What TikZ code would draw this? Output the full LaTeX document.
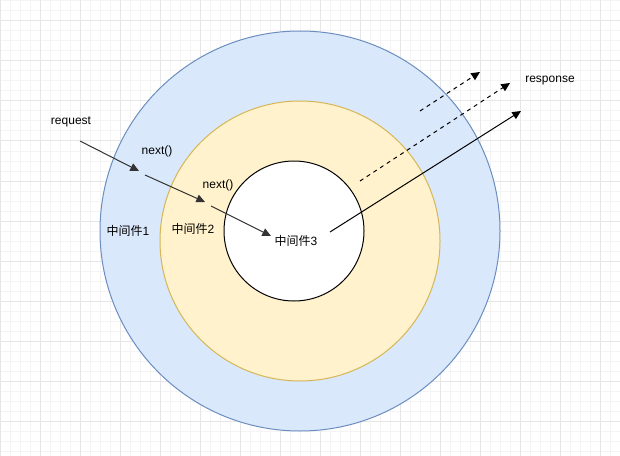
\documentclass[tikz,border=0pt]{standalone}
\usepackage{fontspec}
\setmainfont{Liberation Sans}
\newfontfamily\cjk{Noto Sans CJK SC}
\usetikzlibrary{arrows.meta}
\definecolor{bluefill}{HTML}{DAE8FC}
\definecolor{bluedraw}{HTML}{6C8EBF}
\definecolor{yelfill}{HTML}{FFF2CC}
\definecolor{yeldraw}{HTML}{D6B656}
\definecolor{gridminor}{HTML}{F4F4F4}
\definecolor{gridmajor}{HTML}{E6E6E6}
\definecolor{arrgray}{HTML}{333333}
\tikzset{
  ring/.style={circle, inner sep=0pt, line width=0.75pt},
  lbl/.style={font=\fontsize{9pt}{10pt}\selectfont, inner sep=0pt, text=black},
  arr/.style={line width=0.75pt, -{Triangle[length=6.5pt,width=6pt]}},
}
\begin{document}
\begin{tikzpicture}[x=0.75pt,y=-0.75pt]
\useasboundingbox (0,0) rectangle (620,456);
\fill[white] (0,0) rectangle (620,456);
% grid
\foreach \x in {0,10,...,620} \draw[gridminor, line width=0.75pt] (\x,0) -- (\x,456);
\foreach \y in {1,11,...,456} \draw[gridminor, line width=0.75pt] (0,\y) -- (620,\y);
\foreach \x in {0,40,...,620} \draw[gridmajor, line width=0.75pt] (\x,0) -- (\x,456);
\foreach \y in {21,61,...,456} \draw[gridmajor, line width=0.75pt] (0,\y) -- (620,\y);
% circles
\node[ring, draw=bluedraw, fill=bluefill, minimum size=400*0.75pt] (c1) at (300,231) {};
\node[ring, draw=yeldraw, fill=yelfill, minimum size=280*0.75pt] (c2) at (300,241) {};
\node[ring, draw=black, fill=white, minimum size=140*0.75pt] (c3) at (294,231) {};
% labels
\node[lbl] (req) at (71,122) {request};
\node[lbl] (n1) at (157,151) {next()};
\node[lbl] (n2) at (218,185) {next()};
\node[lbl] (m1) at (128,231) {{\cjk 中间件}1};
\node[lbl] (m2) at (193,229) {{\cjk 中间件}2};
\node[lbl] (m3) at (296,241) {{\cjk 中间件}3};
\node[lbl] (resp) at (550,81) {response};
% arrow endpoints
\coordinate (a1s) at (80,141);  \coordinate (a1e) at (139,171);
\coordinate (a2s) at (145,175); \coordinate (a2e) at (205,202);
\coordinate (a3s) at (211,206); \coordinate (a3e) at (271,236);
\coordinate (r1s) at (330,232); \coordinate (r1e) at (521,111);
\coordinate (r2s) at (360,181); \coordinate (r2e) at (510,83);
\coordinate (r3s) at (420,111); \coordinate (r3e) at (480,72);
\draw[arr, arrgray] (a1s) -- (a1e);
\draw[arr, arrgray] (a2s) -- (a2e);
\draw[arr, arrgray] (a3s) -- (a3e);
\draw[arr, black] (r1s) -- (r1e);
\draw[arr, black, dash pattern=on 3pt off 3pt] (r2s) -- (r2e);
\draw[arr, black, dash pattern=on 3pt off 3pt] (r3s) -- (r3e);
\end{tikzpicture}
\end{document}
